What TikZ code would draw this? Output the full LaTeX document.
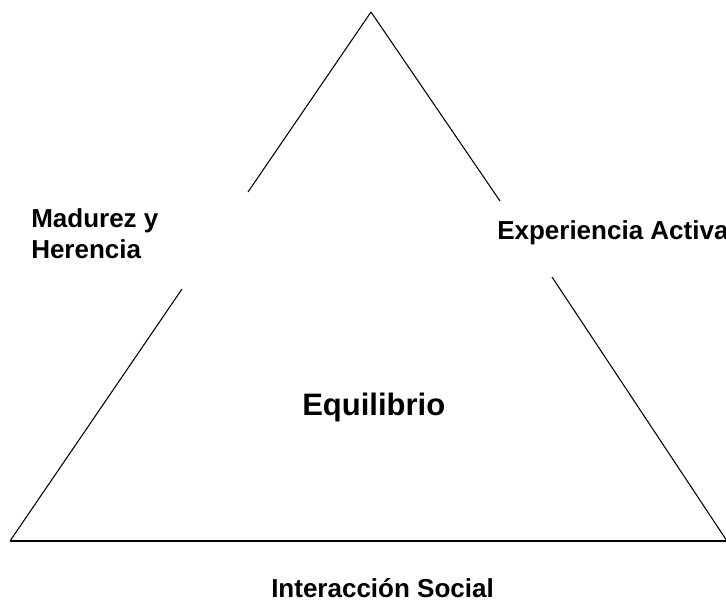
\documentclass[tikz,border=0pt]{standalone}
\usepackage{fontspec}
\setmainfont{Liberation Sans}
\begin{document}
\begin{tikzpicture}[x=0.75pt,y=-0.75pt,
  edge/.style={line width=0.8pt, black},
  lbl/.style={anchor=base west, inner sep=0pt, font=\bfseries\fontsize{19.5}{23}\selectfont, align=left},
  big/.style={anchor=base west, inner sep=0pt, font=\bfseries\fontsize{23.25}{28}\selectfont}]
\useasboundingbox (0,0) rectangle (726,601);
\clip (0,0) rectangle (726,601);
\coordinate (A) at (371,12);
\coordinate (BL) at (10,541);
\coordinate (BR) at (727,541);
\coordinate (L1) at (248,192);
\coordinate (L2) at (182,289);
\coordinate (R1) at (500,201);
\coordinate (R2) at (552,277);
\draw[edge] (A) -- (L1);
\draw[edge] (L2) -- (BL);
\draw[edge] (BL) -- (BR);
\draw[edge] (BR) -- (R2);
\draw[edge] (R1) -- (A);
\node[lbl] (mad) at (31,258) {Madurez y\\Herencia};
\node[lbl] (exp) at (497,239) {Experiencia Activa};
\node[big] (equ) at (302,415) {Equilibrio};
\node[lbl] (int) at (271,597) {Interacción Social};
\end{tikzpicture}
\end{document}
